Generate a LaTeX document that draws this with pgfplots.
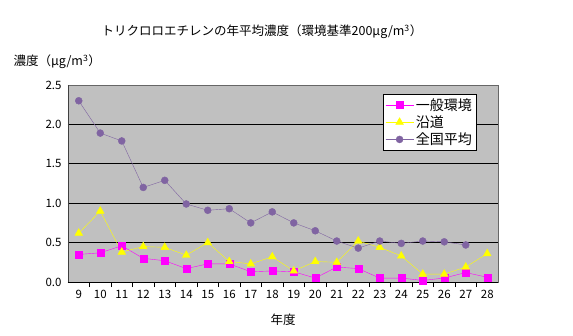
\documentclass[border=0pt]{standalone}
\usepackage{fontspec}
\setmainfont{Noto Sans CJK JP}
\usepackage{pgfplots}
\pgfplotsset{compat=1.18}
\definecolor{gen}{RGB}{255,0,255}
\definecolor{road}{RGB}{255,255,0}
\definecolor{avg}{RGB}{128,100,162}
\definecolor{bg}{RGB}{192,192,192}
\begin{document}
\begin{tikzpicture}[x=1pt,y=1pt]
\path (0,0) rectangle (573,335);
\node[font=\fontsize{12.5}{14}\selectfont] at (262,303) {トリクロロエチレンの年平均濃度（環境基準200μg/m\textsuperscript{3}）};
\node[font=\fontsize{12.5}{14}\selectfont, anchor=west] at (10,273) {濃度（μg/m\textsuperscript{3}）};
\node[font=\fontsize{12.5}{14}\selectfont] at (283,15) {年度};
\begin{axis}[
  at={(68pt,53pt)}, anchor=south west,
  width=430pt, height=197pt, scale only axis,
  xmin=8.5, xmax=28.5, ymin=0, ymax=2.5,
  axis background/.style={fill=bg},
  axis line style={gray!80!black},
  xtick={9,...,28},
  minor x tick num=1,
  xtick pos=lower, ytick pos=left,
  tick align=outside,
  major tick length=0pt,
  minor tick length=5pt,
  minor x tick style={draw=black, line width=0.8pt},
  ytick={0,0.5,...,2.5},
  ymajorgrids, grid style={black, line width=0.8pt},
  yticklabel style={/pgf/number format/fixed, /pgf/number format/fixed zerofill, /pgf/number format/precision=1},
  /pgf/number format/assume math mode=true,
  tick label style={font=\fontsize{11.5}{13}\selectfont},
  xticklabel style={yshift=-5pt},
  yticklabel style={xshift=-3pt},
  legend style={at={(0.733,0.954)}, anchor=north west, draw=black, fill=white, font=\fontsize{14}{16}\selectfont, row sep=0pt, inner sep=2pt},
  legend image code/.code={\draw[#1] (0pt,0pt) -- (28pt,0pt); \draw[#1, mark repeat=2, mark phase=2] plot coordinates {(0pt,0pt)(14pt,0pt)(28pt,0pt)};},
  legend cell align=left,
  clip=false,
]
\draw[gray!50!black] (rel axis cs:0,0) -- (rel axis cs:0,1);
\draw[black, line width=0.8pt] (rel axis cs:0,0) -- (rel axis cs:1,0);
\addplot[gen, mark=square*, mark size=3.5pt, mark options={fill=gen}] coordinates {
(9,0.35)(10,0.37)(11,0.46)(12,0.30)(13,0.27)(14,0.17)(15,0.23)(16,0.23)(17,0.13)(18,0.14)(19,0.13)(20,0.05)(21,0.19)(22,0.17)(23,0.05)(24,0.05)(25,0.02)(26,0.05)(27,0.12)(28,0.06)};
\addlegendentry{一般環境}
\addplot[road, mark=triangle*, mark size=4.5pt, mark options={fill=road}] coordinates {
(9,0.62)(10,0.90)(11,0.38)(12,0.45)(13,0.44)(14,0.34)(15,0.50)(16,0.26)(17,0.23)(18,0.32)(19,0.14)(20,0.26)(21,0.25)(22,0.52)(23,0.44)(24,0.33)(25,0.10)(26,0.10)(27,0.19)(28,0.36)};
\addlegendentry{沿道}
\addplot[avg, mark=*, mark size=3.5pt, mark options={fill=avg}] coordinates {
(9,2.30)(10,1.89)(11,1.79)(12,1.20)(13,1.29)(14,0.99)(15,0.91)(16,0.93)(17,0.75)(18,0.89)(19,0.75)(20,0.65)(21,0.52)(22,0.43)(23,0.52)(24,0.49)(25,0.52)(26,0.51)(27,0.47)};
\addlegendentry{全国平均}
\end{axis}
\end{tikzpicture}
\end{document}
